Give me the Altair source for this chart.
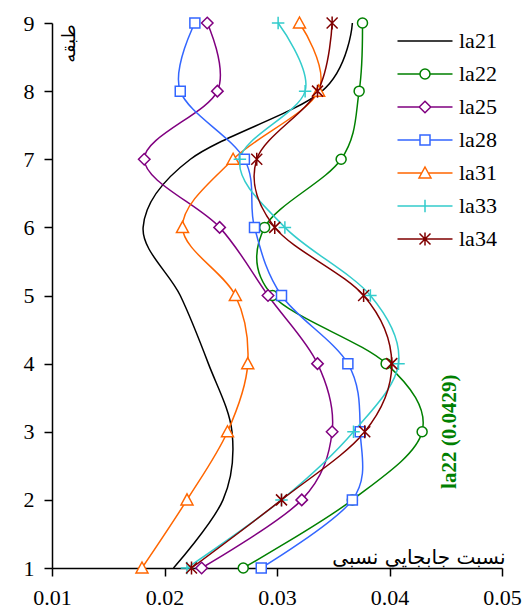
import altair as alt
import pandas as pd

# ---------------- data ----------------
series_names = ["la21", "la22", "la25", "la28", "la31", "la33", "la34"]
series_colors = ["#000000", "#008000", "#800080", "#3366FF", "#FF6600", "#33CCCC", "#800000"]
stories = [1, 2, 3, 4, 5, 6, 7, 8, 9]

la21 = [0.0208, 0.0252, 0.0260, 0.0239, 0.0214, 0.0181, 0.0223, 0.0340, 0.0367]
la22 = [0.0270, 0.0367, 0.0429, 0.0397, 0.0296, 0.0289, 0.0357, 0.0373, 0.0376]
la25 = [0.0233, 0.0322, 0.0349, 0.0336, 0.0292, 0.0249, 0.0182, 0.0247, 0.0238]
la28 = [0.0286, 0.0367, 0.0374, 0.0363, 0.0304, 0.0280, 0.0271, 0.0214, 0.0227]
la31 = [0.0180, 0.0220, 0.0256, 0.0274, 0.0263, 0.0216, 0.0261, 0.0337, 0.0320]
la33 = [0.0220, 0.0304, 0.0368, 0.0408, 0.0383, 0.0307, 0.0267, 0.0325, 0.0301]
la34 = [0.0224, 0.0304, 0.0378, 0.0402, 0.0377, 0.0298, 0.0282, 0.0336, 0.0349]

x_ticks = [0.01, 0.02, 0.03, 0.04, 0.05]
y_ticks = [1, 2, 3, 4, 5, 6, 7, 8, 9]

x_title = "نسبت جابجايي نسبی"
y_title = "طبقه"

note_text = "la22 (0.0429)"
note_x = 0.0454
note_story = 3

# marker shapes (unit paths) and legend symbols (line + marker)
marker_paths = {
    "la22": "M-1,0A1,1 0 1,0 1,0A1,1 0 1,0 -1,0Z",
    "la25": "M0,-1.15L1.15,0L0,1.15L-1.15,0Z",
    "la28": "M-1,-1H1V1H-1Z",
    "la31": "M0,-1.2L1.2,1H-1.2Z",
    "la33": "M-1.25,0H1.25M0,-1.25V1.25",
    "la34": "M-1.1,-1.1L1.1,1.1M-1.1,1.1L1.1,-1.1M0,-1.3V1.3",
}
legend_paths = [
    "M-5.5,0H5.5",
    "M-5.5,0H-1M1,0H5.5" + marker_paths["la22"],
    "M-5.5,0H-1.15M1.15,0H5.5" + marker_paths["la25"],
    "M-5.5,0H-1M1,0H5.5" + marker_paths["la28"],
    "M-5.5,0H-0.6M0.6,0H5.5" + marker_paths["la31"],
    "M-5.5,0H5.5" + marker_paths["la33"],
    "M-5.5,0H5.5" + marker_paths["la34"],
]

values = {"la21": la21, "la22": la22, "la25": la25, "la28": la28,
          "la31": la31, "la33": la33, "la34": la34}
rows = []
for name in series_names:
    for s, v in zip(stories, values[name]):
        rows.append({"series": name, "story": s, "drift": v})
df = pd.DataFrame(rows)

SERIF = "Liberation Serif, Times New Roman, serif"
AR = "DejaVu Sans"

x_enc = alt.X(
    "drift:Q",
    scale=alt.Scale(domain=[0.01, 0.05], nice=False, zero=False),
    axis=alt.Axis(
        values=x_ticks, format=".2f", grid=False, labelFlush=False, labelOverlap=False,
        tickSize=8, tickWidth=1.5, tickColor="black", domainWidth=1.5, domainColor="black",
        labelFont=SERIF, labelFontSize=22, labelColor="black", labelPadding=11,
        title=x_title, titleFont=AR, titleFontSize=20, titleFontWeight="normal",
        titleColor="black", titleX=453, titleY=-5, titleAlign="right",
        titleBaseline="alphabetic", titleAngle=0,
    ),
)
y_enc = alt.Y(
    "story:Q",
    scale=alt.Scale(domain=[1, 9], nice=False, zero=False),
    axis=alt.Axis(
        values=y_ticks, format="d", grid=False, labelFlush=False, labelOverlap=False,
        tickSize=8, tickWidth=1.5, tickColor="black", domainWidth=1.5, domainColor="black",
        labelFont=SERIF, labelFontSize=22, labelColor="black", labelPadding=10,
        title=y_title, titleFont=AR, titleFontSize=18, titleFontWeight="normal",
        titleColor="black", titleAngle=270, titleX=17, titleY=20,
        titleAlign="center", titleBaseline="middle",
    ),
)

color_scale = alt.Scale(domain=series_names, range=series_colors)
shape_scale = alt.Scale(domain=series_names, range=legend_paths)

base = alt.Chart(df)

# invisible layer that only carries the legend (line + marker symbols)
legend_layer = base.mark_point(
    size=100, filled=False, strokeWidth=1.5, opacity=0.001,
).encode(
    x=x_enc, y=y_enc,
    color=alt.Color("series:N", scale=color_scale, title=None,
                    legend=alt.Legend(
                        orient="none", legendX=362, legendY=7, padding=0,
                        symbolSize=100, symbolStrokeWidth=1.5, symbolOpacity=1,
                        symbolFillColor="white",
                        labelFont=SERIF, labelFontSize=22, labelColor="black",
                        labelOffset=23, rowPadding=11,
                    )),
    shape=alt.Shape("series:N", scale=shape_scale, title=None),
)

lines = base.mark_line(interpolate="cardinal", strokeWidth=1.5).encode(
    x="drift:Q", y="story:Q",
    color=alt.Color("series:N", scale=color_scale, title=None),
    detail="series:N",
    order=alt.Order("story:Q"),
)

layers = [legend_layer, lines]
for name, col in zip(series_names, series_colors):
    if name not in marker_paths:
        continue
    pts = base.transform_filter(alt.datum.series == name).mark_point(
        shape=marker_paths[name], size=100, filled=True, fill="white",
        stroke=col, strokeWidth=1.5, opacity=1,
    ).encode(x="drift:Q", y="story:Q")
    layers.append(pts)

note_df = pd.DataFrame({"drift": [note_x], "story": [note_story], "label": [note_text]})
note = alt.Chart(note_df).mark_text(
    angle=270, font=SERIF, fontSize=21, fontWeight="bold", color="#008000",
    align="center", baseline="middle",
).encode(x="drift:Q", y="story:Q", text="label:N")
layers.append(note)

chart = alt.layer(*layers).properties(
    width=450, height=545,
    padding={"left": 52, "top": 23, "right": 21, "bottom": 46},
    autosize=alt.AutoSizeParams(type="none"),
    background="white",
).configure_view(stroke=None)

chart.save("out.html", embed_options={"renderer": "svg", "actions": False})
